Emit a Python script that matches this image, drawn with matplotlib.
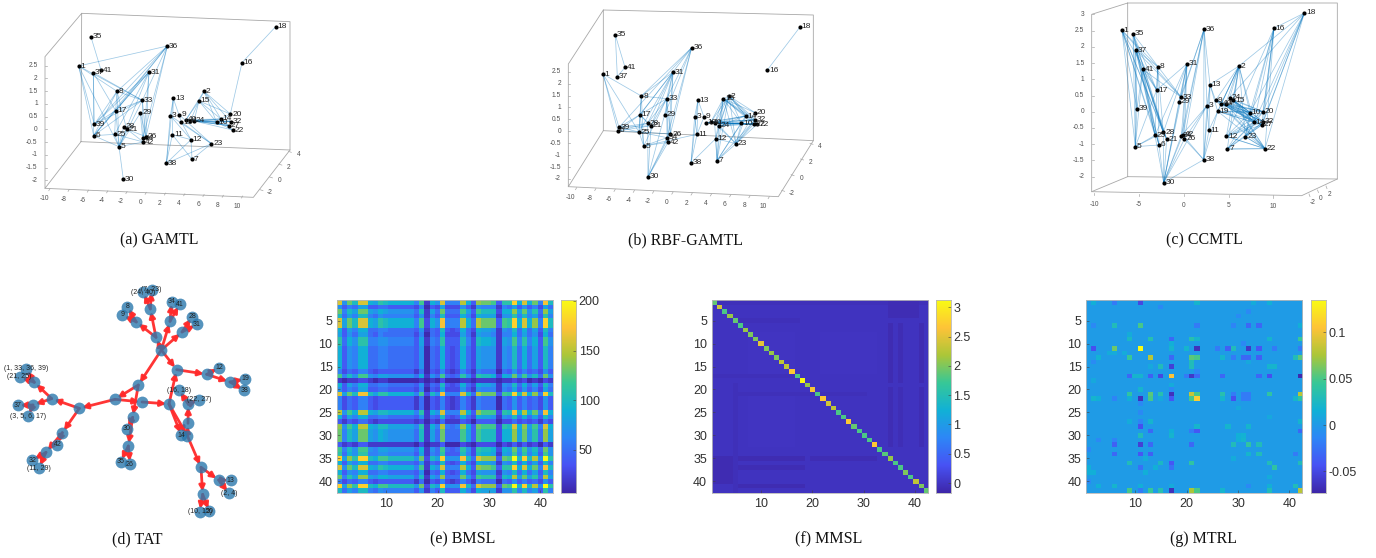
import numpy as np
import matplotlib
matplotlib.use('Agg')
import matplotlib.pyplot as plt
from matplotlib.colors import LinearSegmentedColormap
from matplotlib.patches import FancyArrowPatch

plt.rcParams['font.family'] = ['Liberation Sans', 'DejaVu Sans']

# node positions (3x crop pixels of each panel)
nodes_a = {35: (213, 81), 36: (442, 108), 18: (767, 50), 16: (666, 158), 1: (176, 168), 37: (220, 188),
           41: (243, 180), 31: (387, 186), 8: (291, 244), 33: (367, 271), 17: (287, 302), 29: (361, 309),
           39: (223, 343), 28: (311, 350), 21: (320, 358), 25: (284, 373), 6: (221, 377), 5: (297, 410),
           26: (378, 380), 34: (368, 385), 42: (370, 396), 30: (310, 508), 13: (460, 265), 2: (552, 244),
           15: (537, 273), 3: (451, 317), 9: (478, 315), 19: (484, 336), 40: (498, 329), 4: (511, 332),
           24: (522, 333), 14: (603, 327), 10: (590, 337), 20: (631, 312), 32: (632, 335), 27: (627, 347),
           22: (638, 360), 11: (457, 374), 12: (513, 389), 23: (574, 401), 7: (516, 448), 38: (439, 460)}
edges_a = [([35], [41]), ([1], [36, 39, 6, 5, 33, 8]), ([37], [6, 39, 17, 33]),
           ([36], [39, 6, 17, 8, 33, 26, 34]), ([31], [39, 6, 17, 25, 5, 26, 42]),
           ([8], [39, 6, 5, 33, 17, 21]), ([33], [39, 6, 17, 5, 26, 42]), ([17], [39, 6, 25, 5]),
           ([6], [25, 5]), ([25], [5, 42]), ([28], [5, 42]), ([21], [5, 26]), ([5], [42, 30]),
           ([29], [34, 26, 5]), ([16], [18, 20]), ([13], [3, 19, 11, 38]), ([3], [23, 38, 12]),
           ([9], [23]), ([19], [23, 12]), ([38], [11, 12, 23]), ([11], [12, 7]), ([12], [7]),
           ([23], [7]), ([2], [15, 40, 14, 10, 20, 32]), ([15], [40, 4, 24, 14, 10, 20]),
           ([40, 4, 24], [14, 10, 32, 27]), ([14, 10], [27, 22, 32]), ([14], [20]), ([24], [22])]

nodes_b = {35: (226, 75), 36: (455, 113), 18: (780, 51), 16: (682, 180), 1: (189, 192), 37: (232, 200),
           41: (255, 172), 31: (399, 186), 8: (304, 258), 33: (380, 266), 17: (300, 314), 29: (374, 314),
           28: (323, 340), 21: (333, 347), 39: (237, 352), 6: (234, 363), 25: (297, 366), 5: (311, 408),
           26: (391, 372), 34: (381, 383), 42: (384, 397), 30: (324, 501), 13: (474, 270), 3: (464, 320),
           9: (492, 321), 19: (498, 338), 40: (512, 337), 4: (524, 340), 24: (537, 347), 15: (550, 266),
           2: (567, 258), 14: (617, 318), 10: (604, 340), 20: (645, 308), 32: (646, 329), 27: (641, 342),
           22: (652, 342), 11: (471, 373), 12: (527, 386), 23: (588, 401), 7: (531, 452), 38: (453, 459)}
edges_b = [([35], [41, 37]), ([41], [37]), ([16], [18]), ([1], [39, 6, 25, 8]),
           ([36], [39, 17, 8, 33, 29, 26, 34]), ([31], [8, 17, 28, 21, 33, 29, 26, 42, 25]),
           ([8], [17, 33, 25, 5]), ([33], [17, 21, 28, 26, 34, 42, 5]), ([17], [28, 21, 39, 6, 25, 5]),
           ([39], [28, 25, 21]), ([6], [25, 21, 28]), ([25], [26, 34, 5]), ([30], [28, 21, 34, 42, 26, 29]),
           ([5], [34, 42, 11]), ([13], [3, 9, 11, 38]), ([38], [3, 11, 12]), ([3], [11]), ([9], [11]),
           ([2, 15], [14, 10, 20, 32, 27, 22, 24, 4, 40, 12]), ([2], [15]),
           ([23], [14, 10, 20, 32, 27, 22, 24, 4, 2, 15, 12]), ([7], [14, 10, 32, 2, 15, 12, 23, 24, 4]),
           ([19, 40, 4, 24], [14, 10, 32, 27, 22])]

nodes_c = {1: (186, 76), 35: (219, 86), 37: (227, 135), 41: (248, 193), 8: (293, 185), 36: (432, 73),
           31: (381, 176), 16: (642, 70), 18: (733, 24), 2: (537, 183), 13: (450, 239), 17: (290, 255),
           33: (364, 277), 29: (357, 290), 39: (231, 311), 3: (441, 302), 9: (467, 286), 24: (509, 278),
           15: (520, 286), 40: (484, 296), 4: (497, 296), 19: (473, 319), 10: (570, 323), 20: (609, 320),
           14: (582, 352), 32: (610, 350), 27: (605, 360), 28: (310, 382), 25: (285, 391), 21: (320, 403),
           6: (297, 420), 5: (226, 425), 26: (373, 402), 42: (368, 390), 34: (364, 392), 11: (447, 375),
           12: (499, 394), 23: (556, 395), 7: (502, 432), 22: (615, 431), 38: (431, 464), 30: (311, 533)}
edges_c = [([1, 35, 37, 41], [25, 28, 21, 6, 5, 39, 17, 33]), ([8], [17, 25, 6, 28, 1, 37]),
           ([36], [33, 29, 42, 34, 26, 3, 38, 13]), ([31], [33, 29, 42, 34, 26, 25, 28, 30, 17]),
           ([13], [3, 9, 19, 11, 38]), ([30], [42, 34, 26, 33, 29, 25, 28, 21, 6, 3, 38]),
           ([5], [25, 28, 6, 39, 17]), ([3], [38, 11, 26, 34]),
           ([2], [12, 7, 11, 19, 40, 4, 9, 24, 15, 10, 14, 13, 23]), ([16], [20, 32, 27, 14, 22, 10, 23, 12]),
           ([18], [16, 20, 32, 27, 14, 22, 10, 2, 24]),
           ([10, 14, 20, 32, 27, 22], [9, 40, 4, 24, 15, 19, 12, 23, 7]), ([38], [42, 26, 11, 19]),
           ([22], [23, 12, 7])]

# wall and floor outlines of the three 3d boxes
frame_a = [[(185, 10), (810, 35), (810, 420), (183, 395), (185, 10), (75, 140), (75, 535), (183, 395)],
           [(75, 535), (700, 562), (810, 420)]]
frame_b = [[(190, 0), (820, 15), (820, 392), (190, 362), (190, 0), (85, 162), (85, 530), (190, 362)],
           [(85, 530), (715, 560), (820, 392)]]
frame_c = [[(203, -12), (832, -12), (832, 522), (203, 515), (203, -12), (95, 28), (95, 560), (203, 515)],
           [(95, 560), (725, 572), (832, 522)]]

z_labels_ab = ['2.5', '2', '1.5', '1', '0.5', '0', '-0.5', '-1', '-1.5', '-2']
z_labels_c = ['3', '2.5', '2', '1.5', '1', '0.5', '0', '-0.5', '-1', '-1.5', '-2']
x_labels_ab = ['-10', '-8', '-6', '-4', '-2', '0', '2', '4', '6', '8', '10']
x_labels_c = ['-10', '-5', '0', '5', '10']
y_labels_ab = ['-2', '0', '2', '4']
y_labels_c = ['-2', '0', '2']

# TAT tree
tat_nodes = {'hub': (484, 210), 'a': (468, 172), 'b': (409, 126), 'c': (451, 87), 'd': (510, 124), 'e': (546, 156),
             'f': (530, 269), 'g': (620, 283), 'h': (690, 306), 'i': (415, 315), 'j': (345, 358), 'k': (426, 366),
             'l': (507, 372), 'm': (398, 412), 'n': (385, 498), 'o': (238, 385), 'p': (155, 356), 'q': (103, 307),
             'r': (99, 375), 's': (187, 458), 't': (138, 517), 'u': (562, 467), 'v': (564, 430), 'w': (565, 373),
             'x': (603, 562), 'y': (656, 600), 'z': (608, 643),
             '8': (382, 80), '9': (367, 105), '(24, 40)': (430, 37), '(7, 23)': (455, 29), '34': (515, 65),
             '41': (539, 73), '28': (577, 110), '31': (591, 133), '12': (657, 263), '19': (736, 297), '38': (733, 331),
             '(1, 33, 36, 39)': (78, 266), '(21, 25)': (59, 291), '37': (53, 376), '(3, 5, 6, 17)': (85, 408),
             '42': (172, 494), '32': (97, 541), '(11, 29)': (117, 564), '30': (381, 447), '35': (362, 545),
             '26': (390, 552), '14': (544, 466), '(16, 18)': (537, 330), '(22, 27)': (597, 359), '13': (692, 601),
             '(2, 4)': (687, 640), '(10, 15)': (599, 695), '20': (628, 694)}
tat_edges = [('hub', 'a'), ('a', 'b'), ('b', '8'), ('b', '9'), ('a', 'c'), ('c', '(24, 40)'), ('c', '(7, 23)'),
             ('hub', 'd'), ('d', '34'), ('d', '41'), ('hub', 'e'), ('e', '28'), ('e', '31'), ('hub', 'f'), ('f', 'g'),
             ('g', '12'), ('g', 'h'), ('h', '19'), ('h', '38'), ('l', 'f'), ('hub', 'i'), ('i', 'j'), ('i', 'm'),
             ('j', 'k'), ('k', 'l'), ('j', 'o'), ('o', 'p'), ('p', 'q'), ('q', '(1, 33, 36, 39)'), ('q', '(21, 25)'),
             ('p', 'r'), ('r', '37'), ('r', '(3, 5, 6, 17)'), ('o', 's'), ('s', '42'), ('s', 't'), ('t', '32'),
             ('t', '(11, 29)'), ('m', '30'), ('m', 'n'), ('n', '35'), ('n', '26'), ('l', 'u'), ('l', '14'), ('u', 'v'),
             ('v', 'w'), ('w', '(16, 18)'), ('w', '(22, 27)'), ('u', 'x'), ('x', 'y'), ('y', '13'), ('y', '(2, 4)'),
             ('x', 'z'), ('z', '(10, 15)'), ('z', '20')]

# BMSL cells, one character per cell in base 36, times 10
bmsl_rows = ['g7dagg98ba999996c297g666f94eddc4bbi9g9d6ha',
             '746588445544444361438333742766626584746385',
             'd6a8dd8798777775a285d555c84caaa399e8d7b5e8',
             'a586aa65766666647264a4449639888277b6a684b6',
             'g8dagg98ba999996c397h666f95fddd4cbi9g9e6ia',
             'g8dagg98ba999996c397h666f95fddd4cbi9g9e6ia',
             '94869955665555547254a4349539887276a59584a6',
             '847588546555555361549333852877626695857395',
             'b597bb66776666648265b444a63a998287c6b694c7',
             'b597bb66776666648265b444a63a998287c6b694c7',
             '9476995566555554715494349538777276a59584a6',
             '9476995566555554715494349538777276a59584a6',
             '9476995566555554715494349538777276a59584a6',
             '9476995566555554715494349538777276a59584a6',
             '9476995566555554715494349538777276a59584a6',
             '635466434444444251436323642655515474645374',
             'c6a7cc76887777759275c545b73baa9398d7c7a5d7',
             '212233212211111120213111221222212232312132',
             '94869955665555547254a4349539887276a59584a6',
             '746588445544444361438333742766626584746385',
             'g8dahha8bb999996c3a7h666ga5fddd4cbiag9e6ia',
             '635466434444444251436323642655515474645374',
             '635466434444444251436323642655515474645374',
             '635466434444444251436323642655515474645374',
             'f7c9ff98aa999996b297g666f94eccc3bah9f9d6h9',
             '94869955665555547254a4349539887276a59584a6',
             '424355323333333231325222431444413353434253',
             'e7c9ff98aa888886b296f656e94dccc3bag9e8c6g9',
             'd6a8dd8798777775a285d555c84caaa399e8d7b5e8',
             'd6a8dd8798777775a285d555c84caaa399e8d7b5e8',
             'd6a8dd8798777775a285d555c84caaa399e8d7b5e8',
             '423244222222222131224111321333313242423142',
             'c6a7cc76887777759275c545b73baa9398d7c7a5d7',
             'b597bb66776666648265b444a63a998287c6b694c7',
             'i8ebiia9ccaaaaa7d3a8i777ha5geee4dckaiaf7kb',
             '94869955665555547254a4349539887276a59584a6',
             'g7dagg98ba999996c297g666f94eddc4bbi9g9d6ha',
             '9476995566555554715494349538777276a59584a6',
             'd6b8ee8799888885a286e555d84cbbb3a9f8d8b5f8',
             '635466434444444251436323642655515474645374',
             'i8ebiia9ccaaaaa7d3a8i777ha5geee4dckaiaf7kb',
             'a586aa65766666647264a4449639888277b6a684b6']

mmsl_diag = [1.9, 2.4, 1.8, 2.1, 1.9, 1.8, 2.1, 2.0, 2.0, 2.5, 2.0, 2.1, 2.0, 2.3, 2.3, 2.7, 1.8, 3.1, 2.1, 2.6, 1.8,
             2.7, 2.4, 2.3, 1.8, 1.8, 2.7, 1.9, 1.8, 1.8, 1.8, 2.7, 1.8, 1.85, 2.1, 1.8, 1.8, 2.0, 1.8, 2.3, 2.0, 1.9]
mmsl_base = -0.015
# darker and lighter strips off the diagonal: first row, last row, first col, last col, value
mmsl_strips = [(6, 18, 35, 35, -0.10), (6, 18, 37, 37, -0.085), (6, 18, 41, 41, -0.10), (35, 35, 6, 18, -0.10),
               (37, 37, 6, 18, -0.085), (41, 41, 6, 18, -0.10), (5, 5, 5, 17, -0.06), (17, 17, 1, 16, -0.06),
               (1, 1, 1, 42, -0.06), (19, 42, 5, 5, -0.06), (20, 32, 35, 35, -0.085), (20, 32, 37, 37, -0.07),
               (20, 32, 41, 41, -0.085), (35, 35, 20, 32, -0.085), (8, 16, 8, 16, 0.0), (22, 32, 8, 16, 0.0),
               (8, 16, 22, 32, 0.0), (35, 40, 1, 4, -0.09), (1, 4, 35, 40, -0.08), (21, 21, 5, 30, -0.05)]

mtrl_base = 0.0015
mtrl_cells = [(1, 2, .015), (1, 6, -.02), (1, 11, -.05), (1, 22, .02), (1, 33, .012), (1, 36, .015), (2, 15, -.012),
              (3, 32, -.012), (4, 30, -.01), (8, 9, .012), (12, 5, .012), (12, 6, .012), (12, 8, .012),
              (14, 2, -.01), (14, 21, .03), (14, 32, .01), (18, 2, .01), (19, 17, .012), (23, 11, -.012),
              (24, 30, .01), (26, 36, .01), (31, 3, -.012), (31, 6, -.015), (33, 1, -.012), (35, 12, .012),
              (35, 29, .012), (38, 1, .015), (38, 2, .015), (38, 12, .015), (39, 36, .012), (40, 1, -.01),
              (6, 2, -.012), (6, 6, .03), (6, 11, .05), (6, 22, -.02), (6, 29, -.015), (6, 32, -.03), (6, 34, -.03),
              (6, 42, .015), (9, 9, .025), (9, 13, .035), (9, 17, -.03), (9, 21, .035), (9, 22, .02), (9, 36, .02),
              (9, 42, .045), (10, 17, .015), (10, 31, -.012), (11, 2, -.045), (11, 6, .06), (11, 11, .135),
              (11, 17, .02), (11, 20, .02), (11, 22, -.065), (11, 26, -.02), (11, 28, -.035), (11, 29, .03),
              (11, 32, -.06), (11, 34, -.04), (11, 37, -.02), (11, 42, -.02), (13, 3, .018), (13, 9, .045),
              (13, 13, .08), (13, 17, -.03), (13, 21, .055), (13, 22, .05), (13, 27, .02), (13, 29, -.02),
              (13, 31, -.03), (13, 32, -.03), (13, 34, -.035), (13, 41, .03), (13, 42, .055), (15, 13, .01),
              (15, 15, .03), (15, 17, -.055), (15, 21, .03), (15, 36, .02), (15, 37, .02), (16, 22, -.012),
              (17, 9, -.03), (17, 10, .02), (17, 11, .02), (17, 13, -.035), (17, 15, -.05), (17, 17, .105),
              (17, 20, -.02), (17, 21, -.06), (17, 22, -.03), (17, 27, -.03), (17, 34, -.03), (17, 36, -.045),
              (17, 42, -.07), (20, 11, .02), (20, 17, -.012), (21, 9, .04), (21, 13, .055), (21, 15, .035),
              (21, 17, -.065), (21, 21, .085), (21, 22, .05), (21, 27, .035), (21, 29, -.02), (21, 31, -.02),
              (21, 32, -.02), (21, 36, .04), (21, 42, .08), (22, 2, .02), (22, 3, .015), (22, 6, -.015),
              (22, 9, .015), (22, 11, -.065), (22, 13, .05), (22, 15, .01), (22, 17, -.04), (22, 21, .05),
              (22, 22, .11), (22, 27, .02), (22, 29, -.045), (22, 31, -.02), (22, 32, -.02), (22, 41, .02),
              (22, 42, .04), (25, 11, -.012), (27, 9, .012), (27, 11, -.015), (27, 13, .02), (27, 42, .02),
              (28, 11, -.045), (28, 22, .02), (28, 28, .02), (28, 32, .02), (29, 13, -.03), (29, 17, .015),
              (29, 21, -.02), (29, 22, -.04), (29, 42, -.03), (30, 11, .03), (30, 17, .02), (30, 30, .015),
              (30, 31, .018), (31, 30, .015), (31, 31, .02), (32, 6, -.035), (32, 11, -.055), (32, 13, -.03),
              (32, 21, -.03), (32, 29, .03), (32, 32, .04), (32, 34, .03), (34, 6, -.03), (34, 11, -.04),
              (34, 13, -.035), (34, 32, .02), (34, 34, .03), (34, 41, -.02), (36, 9, .03), (36, 15, .025),
              (36, 17, -.04), (36, 21, .04), (36, 36, .03), (36, 42, .03), (37, 1, .015), (37, 11, -.025),
              (37, 14, .015), (37, 17, -.025), (37, 37, .04), (41, 3, .015), (41, 6, .02), (41, 11, .015),
              (41, 17, .012), (41, 32, -.012), (41, 36, .015), (41, 41, .03), (42, 9, .05), (42, 11, -.02),
              (42, 13, .045), (42, 15, .035), (42, 17, -.065), (42, 21, .075), (42, 22, .05), (42, 27, .02),
              (42, 36, .03), (42, 42, .08)]

caption_a = ['(a) GAMTL', '(b) RBF-GAMTL', '(c) CCMTL']
caption_d = ['(d) TAT', '(e) BMSL', '(f) MMSL', '(g) MTRL']

parula = LinearSegmentedColormap.from_list('parula', [(0.2422, 0.1504, 0.6603), (0.2810, 0.3228, 0.9579),
                                                      (0.1786, 0.5289, 0.9682), (0.0689, 0.6948, 0.8394),
                                                      (0.2161, 0.7843, 0.5923), (0.6720, 0.7793, 0.2227),
                                                      (0.9970, 0.7659, 0.2199), (0.9769, 0.9839, 0.0805)])

W, H = 1376, 558
fig = plt.figure(figsize=(W / 100, H / 100), dpi=100)
bg = fig.add_axes([0, 0, 1, 1])
bg.set_xlim(0, W)
bg.set_ylim(H, 0)
bg.axis('off')

GREY = '#a8a8a8'
TICK = '#505050'


def draw_3d(nodes, edges, frame, ox, oy, z_labels, z_y, z_x, x_labels, x_first, x_last, y_labels, y_first, y_last,
            x_off, y_off):
    for seg in frame:
        xs = [ox + p[0] / 3 for p in seg]
        ys = [max(oy + p[1] / 3, 3) for p in seg]
        bg.plot(xs, ys, color=GREY, lw=0.6)
    for a_list, b_list in edges:
        for a in a_list:
            for b in b_list:
                bg.plot([ox + nodes[a][0] / 3, ox + nodes[b][0] / 3], [oy + nodes[a][1] / 3, oy + nodes[b][1] / 3],
                        color='#0072BD', alpha=0.38, lw=0.55)
    for k, (x, y) in nodes.items():
        bg.plot(ox + x / 3, oy + y / 3, 'o', color='k', ms=3, mew=0, zorder=5)
        bg.text(ox + x / 3 + 1.8, oy + y / 3, str(k), fontsize=6, va='center', ha='left', color='#222222', zorder=6)
    for lab, y in zip(z_labels, np.linspace(z_y[0], z_y[1], len(z_labels))):
        bg.text(ox + (z_x - 22) / 3, oy + y / 3, lab, fontsize=4.8, color=TICK, ha='right', va='center')
        bg.plot([ox + z_x / 3, ox + (z_x + 6) / 3], [oy + y / 3, oy + y / 3], color=GREY, lw=0.5)
    pts = zip(x_labels, np.linspace(x_first[0], x_last[0], len(x_labels)), np.linspace(x_first[1], x_last[1], len(x_labels)))
    for lab, x, y in pts:
        bg.text(ox + x / 3, oy + y / 3, lab, fontsize=4.8, color=TICK, ha='center', va='center')
        bg.plot([ox + (x + x_off[0]) / 3, ox + (x + x_off[0] * .8) / 3],
                [oy + (y + x_off[1]) / 3, oy + (y + x_off[1] * .8) / 3], color=GREY, lw=0.5)
    pts = zip(y_labels, np.linspace(y_first[0], y_last[0], len(y_labels)), np.linspace(y_first[1], y_last[1], len(y_labels)))
    for lab, x, y in pts:
        bg.text(ox + x / 3, oy + y / 3, lab, fontsize=4.8, color=TICK, ha='center', va='center')
        bg.plot([ox + (x + y_off[0]) / 3, ox + (x + y_off[0] * .7) / 3],
                [oy + (y + y_off[1]) / 3, oy + (y + y_off[1] * .7) / 3], color=GREY, lw=0.5)


draw_3d(nodes_a, edges_a, frame_a, 20, 10, z_labels_ab, (167, 511), 75, x_labels_ab, (72, 566), (650, 588),
        y_labels_ab, (750, 549), (835, 434), (18, -30), (-30, -10))
draw_3d(nodes_b, edges_b, frame_b, 540, 10, z_labels_ab, (185, 507), 85, x_labels_ab, (92, 563), (670, 590),
        y_labels_ab, (755, 551), (840, 410), (18, -30), (-30, -10))
draw_3d(nodes_c, edges_c, frame_c, 1060, 5, z_labels_c, (28, 515), 95, x_labels_c, (102, 597), (640, 604),
        y_labels_c, (757, 593), (808, 569), (0, -33), (-10, -26))

# TAT tree, origin of the crop is (0, 280)
for a, b in tat_edges:
    pa = (tat_nodes[a][0] / 3, 280 + tat_nodes[a][1] / 3)
    pb = (tat_nodes[b][0] / 3, 280 + tat_nodes[b][1] / 3)
    bg.add_patch(FancyArrowPatch(pa, pb, arrowstyle='-|>,head_length=2.2,head_width=1.1', color='#ff2a2a', lw=2.0,
                                 shrinkA=0, shrinkB=2, mutation_scale=1.5, zorder=3, alpha=0.95))
for k, (x, y) in tat_nodes.items():
    bg.plot(x / 3, 280 + y / 3, 'o', color='#2a78ad', ms=8.5, mew=0, alpha=0.8, zorder=4)
    if k[0].isdigit() or k[0] == '(':
        bg.text(x / 3, 280 + y / 3, k, fontsize=5, color='#222222', ha='center', va='center', zorder=5)


def heat(data, left, right, vmin, vmax, cb_left, cb_right, cb_ticks, cb_labels):
    top, bottom = 300, 492.7
    ax = fig.add_axes([left / W, 1 - bottom / H, (right - left) / W, (bottom - top) / H])
    ax.imshow(data, cmap=parula, vmin=vmin, vmax=vmax, aspect='auto', interpolation='nearest',
              extent=(0.5, 42.5, 42.5, 0.5))
    ax.set_xticks([10, 20, 30, 40])
    ax.set_yticks([5, 10, 15, 20, 25, 30, 35, 40])
    ax.tick_params(direction='in', length=2, width=0.4, color='#404040', labelsize=9, labelcolor='#303030', pad=3.5)
    cax = fig.add_axes([cb_left / W, 1 - bottom / H, (cb_right - cb_left) / W, (bottom - top) / H])
    grad = np.linspace(vmax, vmin, 256).reshape(-1, 1)
    cax.imshow(grad, cmap=parula, vmin=vmin, vmax=vmax, aspect='auto', extent=(0, 1, vmin, vmax))
    cax.set_xticks([])
    cax.yaxis.tick_right()
    cax.set_yticks(cb_ticks)
    cax.set_yticklabels(cb_labels)
    cax.tick_params(direction='in', length=2, width=0.4, color='#404040', labelsize=9, labelcolor='#303030', pad=2)
    for a in (ax, cax):
        for s in a.spines.values():
            s.set_color('#b8b8b8')
            s.set_linewidth(0.6)


bmsl = np.array([[int(ch, 36) * 10 for ch in row] for row in bmsl_rows], dtype=float)
heat(bmsl, 337.3, 553.3, 7, 201, 560.7, 576, [50, 100, 150, 200], ['50', '100', '150', '200'])

mmsl = np.full((42, 42), float(mmsl_base))
for r0, r1, c0, c1, v in mmsl_strips:
    mmsl[r0 - 1:r1, c0 - 1:c1] = v
mmsl[np.arange(42), np.arange(42)] = mmsl_diag
heat(mmsl, 712, 928, -0.165, 3.125, 935.7, 950.7, [0, .5, 1, 1.5, 2, 2.5, 3], ['0', '0.5', '1', '1.5', '2', '2.5', '3'])

mtrl = np.full((42, 42), float(mtrl_base))
for r, c, v in mtrl_cells:
    mtrl[r - 1, c - 1] = v
heat(mtrl, 1086.3, 1302.3, -0.073, 0.135, 1310.7, 1325.7, [-.05, 0, .05, .1], ['-0.05', '0', '0.05', '0.1'])

for txt, x in zip(caption_a, [159, 686, 1204]):
    bg.text(x, 240, txt, family='Liberation Serif', fontsize=11.5, ha='center', va='center', color='#111111')
for txt, x in zip(caption_d, [137, 463, 829, 1203]):
    bg.text(x, 539, txt, family='Liberation Serif', fontsize=11.5, ha='center', va='center', color='#111111')

fig.savefig('out.png', dpi=100)
